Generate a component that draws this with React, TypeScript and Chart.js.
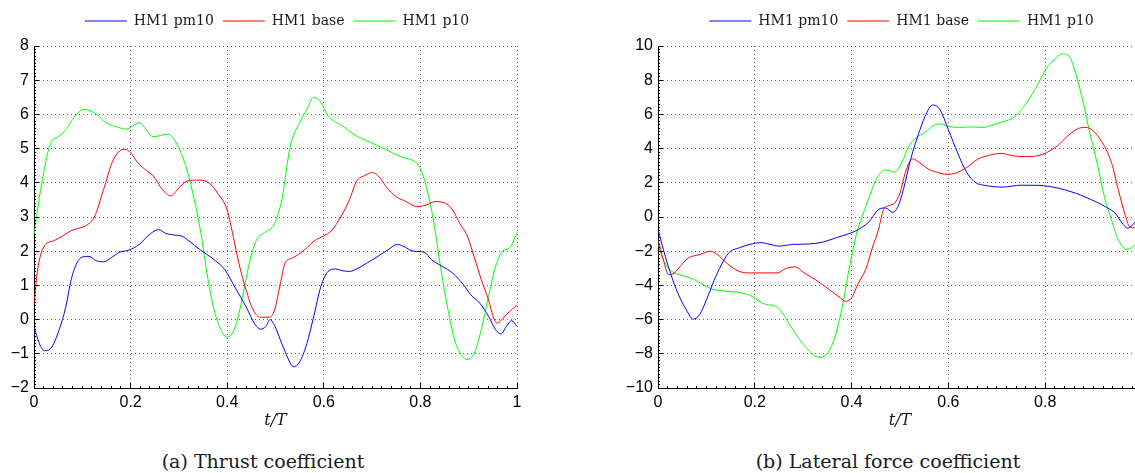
import React, { useEffect, useRef } from "react";
import { Chart, registerables } from "chart.js";

Chart.register(...registerables);

// ---------- Data: (a) Thrust coefficient ----------
const thrustPm10T = [0, 0.011, 0.022, 0.037, 0.052, 0.066, 0.077, 0.089, 0.1, 0.114, 0.129, 0.144, 0.159, 0.177, 0.196, 0.218, 0.24, 0.258, 0.273, 0.292, 0.306, 0.321, 0.343, 0.373, 0.395, 0.417, 0.439, 0.458, 0.469, 0.48, 0.489, 0.498, 0.513, 0.531, 0.537, 0.55, 0.565, 0.579, 0.594, 0.609, 0.624, 0.638, 0.653, 0.668, 0.69, 0.712, 0.734, 0.752, 0.764, 0.786, 0.808, 0.823, 0.845, 0.867, 0.889, 0.904, 0.923, 0.941, 0.956, 0.967, 0.978, 0.989, 1.0];
const thrustPm10 = [-0.2, -0.7, -0.91, -0.8, -0.3, 0.38, 1.17, 1.66, 1.83, 1.85, 1.72, 1.69, 1.8, 1.97, 2.03, 2.2, 2.5, 2.63, 2.52, 2.47, 2.44, 2.3, 2.05, 1.75, 1.46, 0.92, 0.38, -0.15, -0.28, -0.2, 0.0, -0.17, -0.7, -1.28, -1.38, -1.24, -0.7, 0.08, 0.97, 1.41, 1.48, 1.43, 1.41, 1.48, 1.66, 1.85, 2.05, 2.2, 2.15, 2.0, 1.97, 1.75, 1.56, 1.36, 1.02, 0.73, 0.48, 0.1, -0.3, -0.42, -0.2, -0.03, -0.2];

const thrustBaseT = [0, 0.007, 0.015, 0.026, 0.04, 0.059, 0.077, 0.095, 0.11, 0.125, 0.144, 0.162, 0.177, 0.188, 0.2, 0.214, 0.229, 0.247, 0.266, 0.283, 0.3, 0.317, 0.343, 0.362, 0.38, 0.4, 0.413, 0.424, 0.439, 0.454, 0.469, 0.487, 0.498, 0.509, 0.52, 0.535, 0.55, 0.565, 0.58, 0.6, 0.616, 0.635, 0.653, 0.668, 0.683, 0.701, 0.716, 0.731, 0.749, 0.771, 0.793, 0.812, 0.83, 0.852, 0.867, 0.882, 0.897, 0.911, 0.926, 0.941, 0.952, 0.96, 0.97, 0.985, 1.0];
const thrustBase = [0.45, 1.4, 1.95, 2.22, 2.3, 2.44, 2.6, 2.68, 2.77, 3.0, 3.8, 4.6, 4.93, 4.98, 4.88, 4.6, 4.4, 4.2, 3.8, 3.62, 3.85, 4.05, 4.08, 4.0, 3.7, 3.2, 2.4, 1.66, 0.87, 0.28, 0.07, 0.07, 0.28, 0.97, 1.66, 1.8, 1.93, 2.1, 2.3, 2.45, 2.6, 3.0, 3.5, 4.05, 4.2, 4.3, 4.15, 3.85, 3.6, 3.45, 3.3, 3.35, 3.45, 3.4, 3.2, 2.8, 2.45, 1.85, 1.17, 0.58, 0.03, -0.1, 0.03, 0.24, 0.43];

const thrustP10T = [0, 0.015, 0.033, 0.05, 0.063, 0.08, 0.103, 0.13, 0.15, 0.175, 0.19, 0.218, 0.247, 0.277, 0.29, 0.314, 0.332, 0.347, 0.358, 0.373, 0.387, 0.4, 0.417, 0.432, 0.446, 0.461, 0.478, 0.498, 0.513, 0.531, 0.55, 0.565, 0.579, 0.594, 0.609, 0.638, 0.668, 0.697, 0.727, 0.742, 0.764, 0.786, 0.797, 0.812, 0.827, 0.84, 0.852, 0.871, 0.886, 0.897, 0.911, 0.926, 0.941, 0.956, 0.97, 0.985, 1.0];
const thrustP10 = [2.5, 3.9, 5.1, 5.35, 5.5, 5.85, 6.15, 6.0, 5.75, 5.62, 5.57, 5.75, 5.35, 5.42, 5.27, 4.5, 3.5, 2.4, 1.36, 0.28, -0.3, -0.51, -0.2, 0.68, 1.66, 2.34, 2.55, 2.8, 3.5, 5.1, 5.76, 6.15, 6.5, 6.35, 5.96, 5.67, 5.37, 5.18, 4.98, 4.88, 4.74, 4.64, 4.5, 3.9, 2.9, 1.7, 0.68, -0.6, -1.05, -1.17, -1.0, -0.3, 0.68, 1.56, 2.0, 2.1, 2.54];

// ---------- Data: (b) Lateral force coefficient ----------
const lateralPm10T = [0, 0.015, 0.026, 0.041, 0.056, 0.073, 0.086, 0.1, 0.116, 0.131, 0.146, 0.168, 0.19, 0.213, 0.231, 0.25, 0.28, 0.31, 0.34, 0.369, 0.392, 0.414, 0.437, 0.455, 0.47, 0.485, 0.496, 0.507, 0.522, 0.537, 0.552, 0.567, 0.582, 0.6, 0.619, 0.638, 0.657, 0.675, 0.713, 0.75, 0.787, 0.825, 0.862, 0.884, 0.907, 0.929, 0.944, 0.959, 0.97, 0.981, 0.987];
const lateralPm10 = [-0.7, -2.3, -3.3, -4.45, -5.3, -5.97, -5.7, -4.85, -3.7, -2.8, -2.1, -1.8, -1.6, -1.5, -1.6, -1.7, -1.6, -1.58, -1.47, -1.2, -1.0, -0.73, -0.25, 0.43, 0.53, 0.27, 0.63, 1.6, 3.37, 4.75, 5.9, 6.55, 6.3, 5.1, 3.75, 2.6, 2.0, 1.85, 1.75, 1.86, 1.85, 1.7, 1.4, 1.15, 0.86, 0.53, 0.24, -0.35, -0.65, -0.45, -0.25];

const lateralBaseT = [0, 0.011, 0.022, 0.034, 0.049, 0.063, 0.086, 0.108, 0.123, 0.138, 0.16, 0.183, 0.213, 0.246, 0.265, 0.284, 0.302, 0.325, 0.354, 0.377, 0.388, 0.4, 0.414, 0.429, 0.444, 0.455, 0.466, 0.478, 0.489, 0.5, 0.511, 0.526, 0.541, 0.56, 0.578, 0.597, 0.616, 0.638, 0.66, 0.683, 0.709, 0.735, 0.765, 0.795, 0.825, 0.847, 0.869, 0.884, 0.899, 0.918, 0.937, 0.951, 0.966, 0.974, 0.987];
const lateralBase = [-1.3, -2.5, -3.37, -3.27, -2.78, -2.39, -2.2, -2.0, -2.2, -2.6, -3.07, -3.27, -3.27, -3.27, -3.0, -2.92, -3.27, -3.66, -4.25, -4.73, -4.93, -4.73, -3.86, -3.07, -1.7, -0.8, 0.43, 0.67, 0.82, 1.4, 2.6, 3.4, 3.17, 2.78, 2.6, 2.5, 2.58, 2.9, 3.37, 3.6, 3.72, 3.57, 3.53, 3.67, 4.16, 4.75, 5.18, 5.24, 5.04, 4.35, 3.18, 1.6, 0.04, -0.55, -0.65];

const lateralP10T = [0, 0.007, 0.019, 0.034, 0.056, 0.075, 0.093, 0.116, 0.146, 0.175, 0.194, 0.209, 0.224, 0.243, 0.257, 0.272, 0.291, 0.31, 0.332, 0.351, 0.366, 0.381, 0.392, 0.403, 0.41, 0.422, 0.437, 0.451, 0.47, 0.489, 0.504, 0.519, 0.534, 0.552, 0.571, 0.586, 0.6, 0.623, 0.646, 0.672, 0.69, 0.713, 0.735, 0.757, 0.78, 0.802, 0.821, 0.836, 0.851, 0.862, 0.877, 0.892, 0.907, 0.922, 0.937, 0.951, 0.97, 0.987];
const lateralP10 = [-1.5, -2.2, -2.9, -3.27, -3.47, -3.66, -3.96, -4.25, -4.35, -4.45, -4.64, -4.93, -5.12, -5.22, -5.6, -6.3, -7.1, -7.76, -8.2, -7.95, -6.97, -5.22, -3.46, -1.9, -1.0, 0.04, 1.2, 2.2, 2.75, 2.63, 3.2, 4.16, 4.65, 4.94, 5.37, 5.43, 5.3, 5.24, 5.27, 5.24, 5.37, 5.57, 5.82, 6.5, 7.5, 8.67, 9.25, 9.55, 9.35, 8.47, 6.9, 4.94, 3.18, 1.22, -0.16, -1.33, -1.9, -1.6];

const seriesLabels = ["HM1 pm10", "HM1 base", "HM1 p10"];
const seriesColors = ["#0000ff", "#ff0000", "#00ff00"];
const xTicks = [0, 0.2, 0.4, 0.6, 0.8, 1];

const pts = (t: number[], v: number[]) => t.map((x, i) => ({ x, y: v[i] }));

const fmtX = (v: number) => {
  const r = Math.round(v * 10) / 10;
  if (r === 0) return "0";
  if (r === 1) return "1";
  return r.toFixed(1);
};
const fmtY = (v: number) => String(Math.round(v * 10) / 10).replace("-", "\u2212");

const tickMarks = {
  id: "tickMarks",
  afterDatasetsDraw(chart: any, _args: any, opts: any) {
    const { ctx, chartArea, scales } = chart;
    const xs = scales.x;
    const ys = scales.y;
    const align = (p: number) => Math.round(p - 0.5) + 0.5;
    ctx.save();
    ctx.strokeStyle = "#000";
    ctx.lineWidth = 1;
    ctx.setLineDash([]);
    ctx.beginPath();
    const xStep = opts.xStep / 10;
    for (let i = 0; ; i++) {
      const v = xs.min + i * xStep;
      if (v > xs.max + 1e-9) break;
      const px = align(xs.getPixelForValue(v));
      if (px > chartArea.right + 1) break;
      const len = i % 10 === 0 ? 5 : 2;
      ctx.moveTo(px, chartArea.bottom);
      ctx.lineTo(px, chartArea.bottom - len);
    }
    const yStep = opts.yStep / 10;
    for (let i = 0; ; i++) {
      const v = ys.min + i * yStep;
      if (v > ys.max + 1e-9) break;
      const py = align(ys.getPixelForValue(v));
      const len = i % 10 === 0 ? 5 : 2;
      ctx.moveTo(chartArea.left, py);
      ctx.lineTo(chartArea.left + len, py);
    }
    ctx.stroke();
    ctx.restore();
  },
};

type Cfg = {
  sets: { t: number[]; v: number[] }[];
  yMin: number;
  yMax: number;
  yStep: number;
  leftW: number;
  rightW: number;
};

function makeChart(canvas: HTMLCanvasElement, cfg: Cfg) {
  const gridColor = "rgba(0,0,0,0.6)";
  const tickFont = { family: "'Liberation Sans', Arial, sans-serif", size: 16 };
  return new Chart(canvas, {
    type: "line",
    data: {
      datasets: cfg.sets.map((s, i) => ({
        label: seriesLabels[i],
        data: pts(s.t, s.v),
        borderColor: seriesColors[i],
        backgroundColor: seriesColors[i],
        borderWidth: 1,
        pointRadius: 0,
        fill: false,
        cubicInterpolationMode: "monotone" as const,
      })),
    },
    options: {
      responsive: false,
      animation: false,
      devicePixelRatio: 1,
      layout: { padding: { top: 5, left: 0, right: 0, bottom: 0 } },
      plugins: {
        legend: {
          display: true,
          position: "top",
          labels: {
            usePointStyle: true,
            pointStyle: "line",
            pointStyleWidth: 42,
            padding: 9,
            color: "#1a1a1a",
            font: { family: "DejaVu Serif", size: 14 },
          },
        },
        title: {
          display: true,
          text: "",
          weight: 0,
          padding: 0,
          font: { size: 8, lineHeight: 1 },
        },
        tooltip: { enabled: false },
        tickMarks: { xStep: 0.2, yStep: cfg.yStep },
      } as any,
      scales: {
        x: {
          type: "linear",
          min: 0,
          max: 1,
          afterBuildTicks: (s: any) => {
            s.ticks = xTicks.map((v) => ({ value: v }));
          },
          ticks: {
            callback: (v: any) => fmtX(Number(v)),
            color: "#000",
            padding: 5,
            maxRotation: 0,
            autoSkip: false,
            font: tickFont,
          },
          grid: { color: gridColor, lineWidth: 1, drawTicks: false },
          border: { display: true, color: "#000", width: 1, dash: [1, 3] },
          title: {
            display: true,
            text: "t/T",
            color: "#1a1a1a",
            font: { family: "DejaVu Serif", style: "italic", size: 16 },
            padding: { top: 0, bottom: 3 },
          },
          afterFit: (s: any) => {
            s.height = 45;
          },
        },
        y: {
          type: "linear",
          position: "left",
          min: cfg.yMin,
          max: cfg.yMax,
          ticks: {
            stepSize: cfg.yStep,
            callback: (v: any) => fmtY(Number(v)),
            color: "#000",
            padding: 5,
            font: tickFont,
          },
          grid: { color: gridColor, lineWidth: 1, drawTicks: false },
          border: { display: true, color: "#000", width: 1, dash: [1, 3] },
          afterFit: (s: any) => {
            s.width = cfg.leftW;
          },
        },
        yPad: {
          type: "linear",
          position: "right",
          min: cfg.yMin,
          max: cfg.yMax,
          display: true,
          ticks: { display: false },
          grid: { display: false, drawTicks: false },
          border: { display: false },
          afterFit: (s: any) => {
            s.width = cfg.rightW;
          },
        },
      },
    } as any,
    plugins: [tickMarks as any],
  });
}

function Panel(props: { left: number; width: number; cfg: Cfg }) {
  const ref = useRef<HTMLCanvasElement | null>(null);
  useEffect(() => {
    if (!ref.current) return;
    const chart = makeChart(ref.current, props.cfg);
    return () => chart.destroy();
  }, []);
  return (
    <canvas
      ref={ref}
      width={props.width}
      height={433}
      style={{ position: "absolute", left: props.left, top: 0, width: props.width, height: 433 }}
    />
  );
}

const thrustCfg: Cfg = {
  sets: [
    { t: thrustPm10T, v: thrustPm10 },
    { t: thrustBaseT, v: thrustBase },
    { t: thrustP10T, v: thrustP10 },
  ],
  yMin: -2,
  yMax: 8,
  yStep: 1,
  leftW: 34,
  rightW: 37,
};

const lateralCfg: Cfg = {
  sets: [
    { t: lateralPm10T, v: lateralPm10 },
    { t: lateralBaseT, v: lateralBase },
    { t: lateralP10T, v: lateralP10 },
  ],
  yMin: -10,
  yMax: 10,
  yStep: 2,
  leftW: 38,
  rightW: 41,
};

const captionStyle: React.CSSProperties = {
  position: "absolute",
  top: 450,
  width: 400,
  textAlign: "center",
  fontFamily: "DejaVu Serif",
  fontSize: 19,
  lineHeight: "22px",
  color: "#1a1a1a",
  whiteSpace: "nowrap",
};

export default function App() {
  return (
    <div
      style={{
        position: "fixed",
        left: 0,
        top: 0,
        width: 1135,
        height: 473,
        overflow: "hidden",
        background: "#fff",
      }}
    >
      <Panel left={0} width={554} cfg={thrustCfg} />
      <Panel left={620} width={563} cfg={lateralCfg} />
      <div style={{ ...captionStyle, left: 263 - 200 }}>(a) Thrust coefficient</div>
      <div style={{ ...captionStyle, left: 888 - 200 }}>(b) Lateral force coefficient</div>
    </div>
  );
}
